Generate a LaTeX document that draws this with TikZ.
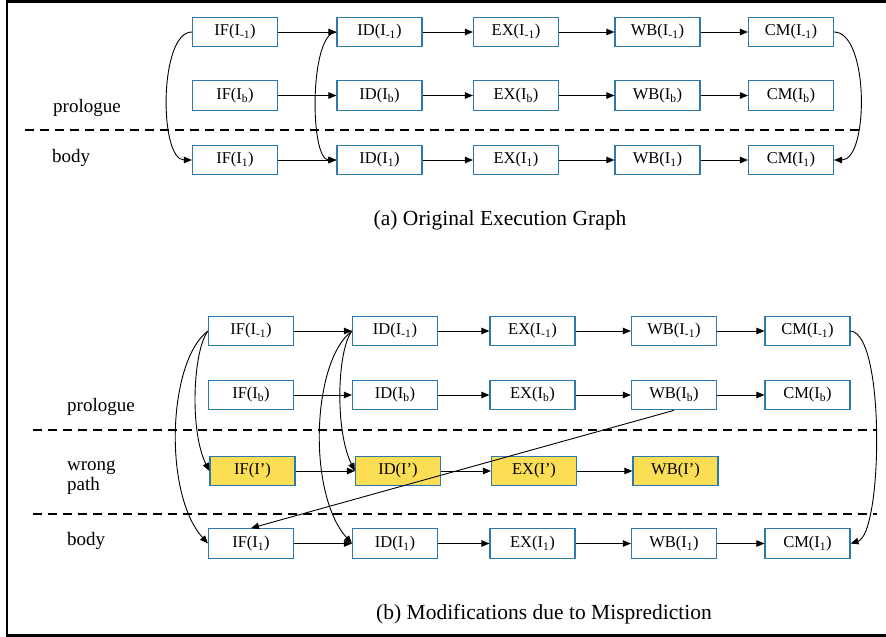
\documentclass[tikz,border=0pt]{standalone}
\usepackage{fontspec}
\setmainfont{Liberation Serif}
\usetikzlibrary{arrows.meta}
\definecolor{boxblue}{RGB}{45,120,172}
\definecolor{wrongfill}{RGB}{252,222,85}
\tikzset{
  stage/.style={draw=boxblue, line width=1.2pt, fill=white, minimum width=85pt,
    minimum height=29.5pt, inner sep=0pt, font=\fontsize{16.5}{19}\selectfont},
  wrongstage/.style={stage, fill=wrongfill},
  flow/.style={-{Triangle[length=8pt,width=6.5pt]}, line width=0.9pt},
  sepline/.style={dash pattern=on 9pt off 6pt, line width=2pt},
  lbl/.style={anchor=base west, inner sep=0pt, font=\fontsize{19}{22}\selectfont},
  captiontext/.style={inner sep=0pt, font=\fontsize{21.5}{25}\selectfont},
}
\newcommand{\Iw}[1]{I\textsubscript{#1}}
\begin{document}
\begin{tikzpicture}[x=1pt,y=-1pt]
\useasboundingbox (0,0) rectangle (886,637);
% frame
\draw[line width=2.6pt] (886,1.5) -- (7,1.5) -- (7,635.5) -- (886,635.5);

% ---------------- (a) original execution graph ----------------
\draw[sepline] (25,130) -- (860,130);
\node[lbl] (apro) at (53,112) {prologue};
\node[lbl] (abody) at (52,162.5) {body};

\foreach \r/\y/\s in {1/32/-1, 2/95.5/b, 3/160/1}{
  \node[stage] (aif\r) at (235,\y) {IF(\Iw{\s})};
  \node[stage] (aid\r) at (379.5,\y) {ID(\Iw{\s})};
  \node[stage] (aex\r) at (516,\y) {EX(\Iw{\s})};
  \node[stage] (awb\r) at (657.5,\y) {WB(\Iw{\s})};
  \node[stage] (acm\r) at (791,\y) {CM(\Iw{\s})};
  \draw[flow] (aif\r) -- (aid\r);
  \draw[flow] (aid\r) -- (aex\r);
  \draw[flow] (aex\r) -- (awb\r);
  \draw[flow] (awb\r) -- (acm\r);
}
\draw[flow] (aif1.west) .. controls +(-33,0) and +(-33,0) .. (aif3.west);
\draw[flow] (aid1.west) .. controls +(-27,0) and +(-27,0) .. (aid3.west);
\draw[flow] (acm1.east) .. controls +(35,0) and +(35,0) .. (acm3.east);

\node[captiontext] (capa) at (500,220) {(a) Original Execution Graph};

% ---------------- (b) modifications due to misprediction ----------------
\draw[sepline] (33,429.5) -- (877,429.5);
\draw[sepline] (33,513.5) -- (877,513.5);
\node[lbl] (bpro) at (67,411.5) {prologue};
\node[lbl] (bwrong) at (67,470.5) {wrong};
\node[lbl] (bpath) at (67,490) {path};
\node[lbl] (bbody) at (67,545) {body};

\foreach \r/\y/\s in {1/331/-1, 2/395/b, 4/543.5/1}{
  \node[stage] (bif\r) at (251,\y) {IF(\Iw{\s})};
  \node[stage] (bid\r) at (395,\y) {ID(\Iw{\s})};
  \node[stage] (bex\r) at (532.5,\y) {EX(\Iw{\s})};
  \node[stage] (bwb\r) at (674,\y) {WB(\Iw{\s})};
  \node[stage] (bcm\r) at (807.5,\y) {CM(\Iw{\s})};
  \draw[flow] (bif\r) -- (bid\r);
  \draw[flow] (bid\r) -- (bex\r);
  \draw[flow] (bex\r) -- (bwb\r);
  \draw[flow] (bwb\r) -- (bcm\r);
}
% wrong-path instruction
\node[wrongstage] (wif) at (252.5,471) {IF(I’)};
\node[wrongstage] (wid) at (398,471) {ID(I’)};
\node[wrongstage] (wex) at (534,471) {EX(I’)};
\node[wrongstage] (wwb) at (675.5,471) {WB(I’)};
\draw[flow] (wif) -- (wid);
\draw[flow] (wid) -- (wex);
\draw[flow] (wex) -- (wwb);

\draw[flow] (bif1.west) .. controls +(-15,20) and +(-20,-40) .. (wif.west);
\draw[flow] (bif1.west) .. controls +(-40,30) and +(-45,-50) .. (bif4.west);
\draw[flow] (bid1.west) .. controls +(-15,20) and +(-20,-40) .. (wid.west);
\draw[flow] (bid1.west) .. controls +(-40,30) and +(-45,-50) .. (bid4.west);
\draw[flow] (bcm1.east) .. controls +(35,3) and +(32,-10) .. (bcm4.east);
\draw[flow] (bwb2.south) -- (bif4.north);

\node[captiontext] (capb) at (544,614) {(b) Modifications due to Misprediction};
\end{tikzpicture}
\end{document}
